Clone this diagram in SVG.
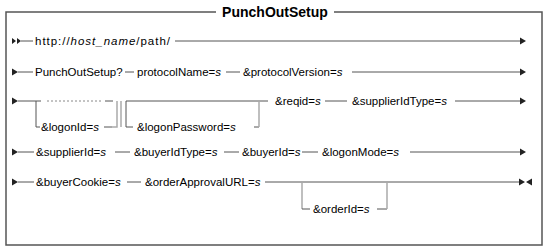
<svg xmlns="http://www.w3.org/2000/svg" width="549" height="251" viewBox="0 0 549 251">
<style>
.t{font-family:"Liberation Sans",Arial,Helvetica,sans-serif;font-size:11.5px;fill:#000}
.ti{font-style:italic}
.title{font-family:"Liberation Sans",Arial,Helvetica,sans-serif;font-size:14px;font-weight:bold;fill:#000}
.frame{fill:none;stroke:#555;stroke-width:1.5}
.ln{fill:none;stroke:#555;stroke-width:1}
.br{fill:none;stroke:#aaa;stroke-width:1.5}
.dash{fill:none;stroke:#888;stroke-width:1;stroke-dasharray:2 2}
.ah{fill:#222}
</style>
<rect width="549" height="251" fill="#fff"/>
<g id="frame">
<path class="frame" d="M216,12 H6 V245 H542 V12 H334"/>
<text class="title" x="275" y="17" text-anchor="middle">PunchOutSetup</text>
</g>
<g id="connectors">
<!-- row 1 -->
<path class="ah" d="M12,38 L16,41 L12,44 Z M17,38 L21,41 L17,44 Z"/>
<path class="ln" d="M21,41 H33 M175,41 H521"/>
<path class="ah" d="M520,37.5 L526,41 L520,44.5 Z"/>
<!-- row 2 -->
<path class="ah" d="M12,68.5 L18,72 L12,75.5 Z"/>
<path class="ln" d="M18,72 H33 M125,72 H134 M226,72 H240 M352,72 H521"/>
<path class="ah" d="M520,68.5 L526,72 L520,75.5 Z"/>
<!-- row 3 -->
<path class="ah" d="M12,97.5 L18,101 L12,104.5 Z"/>
<path class="ln" d="M18,101 H41 M105,101 H113 M126,101 H268 M325,101 H347 M455,101 H521"/>
<path class="dash" d="M47,101 H101"/>
<path class="ln" d="M36,101 V127 H40 M104,127 H112"/>
<path class="br" d="M117,101 V127 H112"/>
<path class="br" d="M121,101 V127"/>
<path class="ln" d="M126,101 V127 H133 M254,127 H259"/>
<path class="br" d="M259,101 V127"/>
<path class="ah" d="M520,97.5 L526,101 L520,104.5 Z"/>
<!-- row 4 -->
<path class="ah" d="M12,148.5 L18,152 L12,155.5 Z"/>
<path class="ln" d="M18,152 H34 M115,152 H130 M224,152 H239 M302,152 H318 M410,152 H521"/>
<path class="ah" d="M520,148.5 L526,152 L520,155.5 Z"/>
<!-- row 5 -->
<path class="ah" d="M12,178.5 L18,182 L12,185.5 Z"/>
<path class="ln" d="M18,182 H34 M127,182 H141 M265,182 H521"/>
<path class="br" d="M302,182 V209"/>
<path class="ln" d="M302,209 H310 M377,209 H387"/>
<path class="br" d="M387,182 V209"/>
<path class="ah" d="M519,178.5 L525,182 L519,185.5 Z M532,178.5 L526,182 L532,185.5 Z"/>
</g>
<g id="n-url"><text class="t" x="35" y="45" textLength="135" lengthAdjust="spacing">http://<tspan class="ti">host_name</tspan>/path/</text></g>
<g id="n-punchout"><text class="t" x="35" y="76">PunchOutSetup?</text></g>
<g id="n-protocolName"><text class="t" x="137" y="76">protocolName=<tspan class="ti">s</tspan></text></g>
<g id="n-protocolVersion"><text class="t" x="243" y="76">&amp;protocolVersion=<tspan class="ti">s</tspan></text></g>
<g id="n-logonId"><text class="t" x="41" y="131">&amp;logonId=<tspan class="ti">s</tspan></text></g>
<g id="n-logonPassword"><text class="t" x="137" y="131">&amp;logonPassword=<tspan class="ti">s</tspan></text></g>
<g id="n-reqid"><text class="t" x="275" y="105">&amp;reqid=<tspan class="ti">s</tspan></text></g>
<g id="n-supplierIdType"><text class="t" x="352" y="105">&amp;supplierIdType=<tspan class="ti">s</tspan></text></g>
<g id="n-supplierId"><text class="t" x="36" y="156">&amp;supplierId=<tspan class="ti">s</tspan></text></g>
<g id="n-buyerIdType"><text class="t" x="134" y="156">&amp;buyerIdType=<tspan class="ti">s</tspan></text></g>
<g id="n-buyerId"><text class="t" x="242" y="156">&amp;buyerId=<tspan class="ti">s</tspan></text></g>
<g id="n-logonMode"><text class="t" x="322" y="156">&amp;logonMode=<tspan class="ti">s</tspan></text></g>
<g id="n-buyerCookie"><text class="t" x="36" y="186">&amp;buyerCookie=<tspan class="ti">s</tspan></text></g>
<g id="n-orderApprovalURL"><text class="t" x="145" y="186">&amp;orderApprovalURL=<tspan class="ti">s</tspan></text></g>
<g id="n-orderId"><text class="t" x="313" y="213">&amp;orderId=<tspan class="ti">s</tspan></text></g>
</svg>
